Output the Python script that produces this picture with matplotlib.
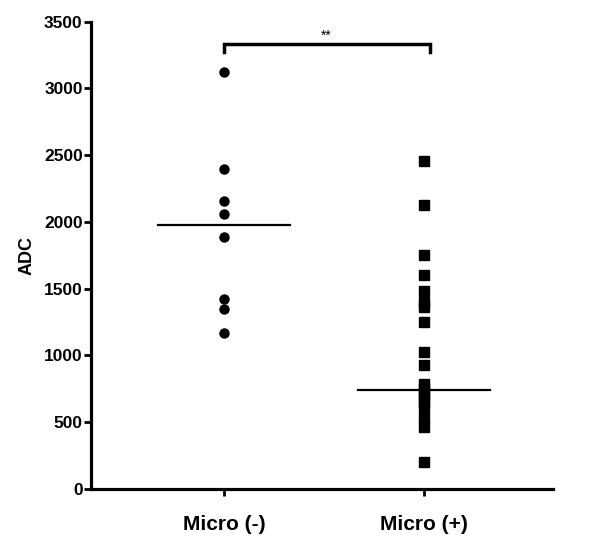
import matplotlib.pyplot as plt
import numpy as np

plt.rcParams['font.family'] = ['Liberation Sans', 'DejaVu Sans']

groups = ['Micro (-)', 'Micro (+)']
micro_neg = [3120, 2400, 2160, 2060, 1890, 1420, 1350, 1170]
micro_pos = [2460, 2130, 1750, 1600, 1480, 1400, 1360, 1250, 1025, 925,
             785, 755, 720, 690, 650, 615, 530, 465, 200]
medians = [1980, 740]
yticks = [0, 500, 1000, 1500, 2000, 2500, 3000, 3500]

fig = plt.figure(figsize=(6.07, 5.42), dpi=100)
ax = fig.add_axes([0.15, 0.098, 0.761, 0.862])

xs = [1, 2]
ax.plot([xs[0]] * len(micro_neg), micro_neg, 'o', color='black', markersize=6.5)
ax.plot([xs[1]] * len(micro_pos), micro_pos, 's', color='black', markersize=6.5)

for x, m in zip(xs, medians):
    ax.plot([x - 0.33, x + 0.33], [m, m], color='black', lw=1.6)

# significance bracket
ax.plot([1, 1, 2.03, 2.03], [3270, 3330, 3330, 3270], color='black', lw=2.5,
        solid_joinstyle='miter', clip_on=False)
ax.text(1.51, 3345, '**', ha='center', va='bottom', fontsize=10)

ax.set_xlim(0.335, 2.645)
ax.set_ylim(0, 3500)
ax.set_xticks(xs)
ax.set_xticklabels(groups, fontsize=15, fontweight='bold')
ax.set_yticks(yticks)
ax.set_yticklabels([str(t) for t in yticks], fontsize=12.5, fontweight='bold')
ax.set_ylabel('ADC', fontsize=13, fontweight='bold', labelpad=6)

for s in ['top', 'right']:
    ax.spines[s].set_visible(False)
for s in ['left', 'bottom']:
    ax.spines[s].set_linewidth(2.3)
ax.tick_params(axis='both', direction='out', length=5, width=2)
ax.tick_params(axis='x', pad=14)
ax.tick_params(axis='y', pad=1)

fig.savefig('out.png', dpi=100)
